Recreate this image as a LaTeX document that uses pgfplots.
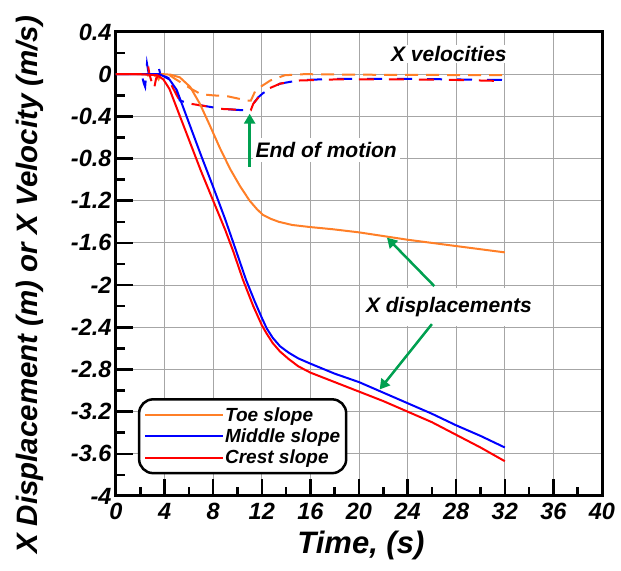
\documentclass[border=0pt]{standalone}
\usepackage{pgfplots}
\pgfplotsset{compat=1.18}
\usepackage{fontspec}
\setmainfont{Liberation Sans}
\usetikzlibrary{arrows.meta}
\definecolor{corange}{RGB}{255,127,39}
\definecolor{cgreen}{RGB}{0,160,80}
\begin{document}
\begin{tikzpicture}
\begin{axis}[name=ax,
 scale only axis, width=486pt, height=464pt,
 xmin=0,xmax=40,ymin=-4,ymax=0.4,
 xtick={0,4,...,40},
 ytick={-4,-3.6,-3.2,-2.8,-2.4,-2,-1.6,-1.2,-0.8,-0.4,0,0.4},
 minor x tick num=1, minor y tick num=1,
 tick pos=left, tick align=inside,
 major tick length=17pt, minor tick length=9pt,
 tick style={black, line width=2.5pt},
 axis line style={line width=3pt},
 grid=major, major grid style={gray!70, line width=0.9pt},
 /pgf/number format/assume math mode=true,
 ticklabel style={font=\fontsize{23.5}{26}\selectfont\bfseries\itshape},
 xticklabel style={yshift=-4pt},
 yticklabel style={xshift=-1pt},
 xlabel={Time, (s)},
 ylabel={X Displacement (m) or X Velocity (m/s)},
 xlabel style={font=\fontsize{31}{33}\selectfont\bfseries\itshape, at={(axis description cs:0.504,0)}, anchor=base, yshift=-58pt},
 ylabel style={font=\fontsize{29.5}{31}\selectfont\bfseries\itshape, at={(axis description cs:-0.177,0.455)}, anchor=center},
 legend style={at={(axis description cs:0.045,0.211)}, anchor=north west,
   draw=black, line width=2.5pt, rounded corners=14pt, fill=white,
   font=\fontsize{19}{21}\selectfont\bfseries\itshape,
   inner xsep=5pt, inner ysep=7pt, row sep=4pt, column sep=0pt,
   nodes={inner sep=1pt}},
 legend cell align=left,
 legend image code/.code={\draw[#1, line width=2pt, sharp corners] (0pt,0pt) -- (62pt,0pt); \path (62pt,0pt) -- (78pt,0pt);},
]
% velocities (dashed)
\addplot[corange, line width=2pt, dash pattern=on 13pt off 8pt, forget plot] coordinates {
(0,0)(2.6,0)(2.7,-0.03)(2.9,0)(3.3,-0.02)(3.5,-0.05)(3.7,0)(4.3,0)(4.8,-0.04)(5.5,-0.09)(6.2,-0.14)(7,-0.19)(7.9,-0.2)(9.2,-0.21)(10,-0.23)(10.8,-0.25)(11.1,-0.25)(11.3,-0.2)(11.5,-0.15)(12.7,-0.06)(13.9,-0.01)(15.5,0)(20,-0.005)(32,-0.01)};
\addplot[blue, line width=2pt, dash pattern=on 15pt off 15pt, forget plot] coordinates {
(0,0)(2.1,0)(2.3,-0.09)(2.4,-0.12)(2.55,0.1)(2.7,0)(3.3,0)(3.5,0.07)(3.65,0)(4.2,-0.03)(4.7,-0.06)(5.25,-0.25)(6.1,-0.28)(7.2,-0.3)(8.8,-0.33)(10.2,-0.34)(11,-0.34)(11.3,-0.28)(11.7,-0.22)(12.1,-0.18)(12.7,-0.14)(13.5,-0.09)(15.1,-0.057)(17.8,-0.045)(24.6,-0.045)(28,-0.05)(32,-0.055)};
\addplot[red, line width=2pt, dash pattern=on 15pt off 15pt, dash phase=15pt, forget plot] coordinates {
(0,0)(2.4,0)(2.6,0.11)(2.75,0)(3.0,-0.1)(3.1,-0.16)(3.3,-0.04)(3.6,0)(4.1,-0.06)(4.5,-0.09)(5.0,-0.2)(5.3,-0.26)(6.1,-0.28)(7.2,-0.3)(8.8,-0.33)(10.5,-0.34)(10.9,-0.33)(11.1,-0.34)(11.3,-0.28)(11.8,-0.21)(12.5,-0.14)(13.5,-0.09)(15.1,-0.06)(18,-0.05)(24,-0.05)(28,-0.055)(32,-0.065)};
% displacements (solid)
\addplot[corange, line width=2pt] coordinates {
(0,0)(2,0)(3.9,0)(4.5,-0.005)(5.25,-0.03)(6.1,-0.12)(6.9,-0.28)(7.7,-0.48)(8.55,-0.7)(9.4,-0.9)(10.2,-1.06)(11,-1.2)(11.6,-1.28)(12.1,-1.335)(12.7,-1.37)(13.4,-1.4)(14.5,-1.43)(16,-1.45)(17.8,-1.47)(20,-1.5)(22,-1.535)(24,-1.57)(26,-1.6)(28,-1.63)(30,-1.66)(32,-1.69)};
\addlegendentry{Toe slope}
\addplot[blue, line width=2pt] coordinates {
(0,0)(2,0)(3.6,0)(4.4,-0.05)(5,-0.15)(6,-0.46)(7,-0.77)(8,-1.07)(9,-1.38)(9.9,-1.68)(10.7,-1.95)(11.4,-2.15)(12,-2.31)(12.4,-2.41)(12.9,-2.5)(13.5,-2.58)(14.2,-2.64)(15,-2.695)(16,-2.745)(18,-2.84)(20,-2.92)(22,-3.02)(24,-3.12)(26,-3.22)(28,-3.33)(30,-3.43)(32,-3.54)};
\addlegendentry{Middle slope}
\addplot[red, line width=2pt] coordinates {
(0,0)(2,0)(3.4,-0.01)(3.9,-0.05)(4.4,-0.14)(5,-0.32)(6,-0.62)(7,-0.92)(8,-1.2)(9,-1.48)(9.65,-1.68)(10.45,-1.95)(11.3,-2.2)(12,-2.38)(12.4,-2.46)(12.9,-2.55)(13.5,-2.63)(14.2,-2.7)(15,-2.77)(16,-2.83)(18,-2.92)(20,-3.01)(22,-3.1)(24,-3.2)(26,-3.3)(28,-3.42)(30,-3.54)(32,-3.67)};
\addlegendentry{Crest slope}
% annotations
\node[fill=white, inner xsep=2pt, inner ysep=1pt, font=\fontsize{21}{23}\selectfont\bfseries\itshape] at (axis cs:27.4,0.19) {X velocities};
\node[fill=white, inner xsep=3pt, inner ysep=4pt, font=\fontsize{21}{23}\selectfont\bfseries\itshape] at (axis cs:17.3,-0.72) {End of motion};
\node[fill=white, inner xsep=3pt, inner ysep=9pt, font=\fontsize{21}{23}\selectfont\bfseries\itshape] at (axis cs:27.4,-2.21) {X displacements};
\draw[cgreen, line width=2.5pt, -{Triangle[width=11pt,length=10pt]}] (axis cs:11,-0.88) -- (axis cs:11,-0.375);
\draw[cgreen, line width=2.5pt, -{Triangle[width=11pt,length=10pt]}] (axis cs:26.2,-2.01) -- (axis cs:22.3,-1.55);
\draw[cgreen, line width=2.5pt, -{Triangle[width=11pt,length=10pt]}] (axis cs:26.0,-2.37) -- (axis cs:21.7,-2.99);
\end{axis}
\pgfresetboundingbox
\path ([shift={(-116pt,-75pt)}]ax.south west) rectangle ([shift={(19pt,32pt)}]ax.north east);
\end{tikzpicture}
\end{document}
